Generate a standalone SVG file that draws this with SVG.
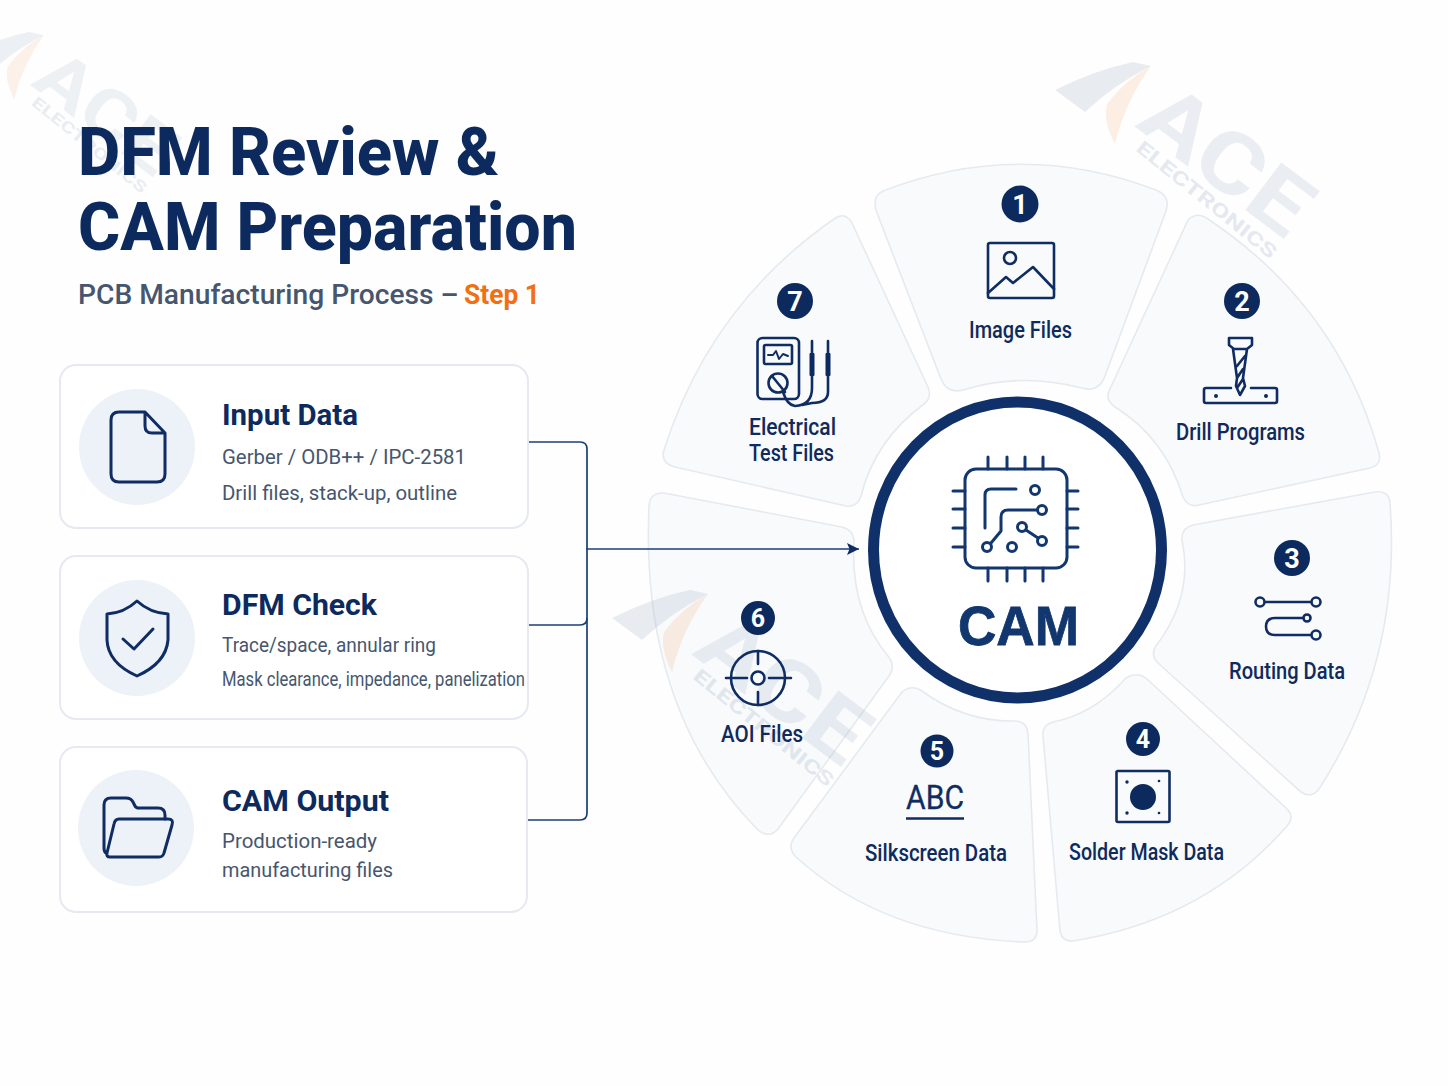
<svg xmlns="http://www.w3.org/2000/svg" width="1448" height="1086" viewBox="0 0 1448 1086">
<style>
text{font-family:Roboto,"Liberation Sans",sans-serif}
.h{font-weight:800;font-size:67px;fill:#0c2a5e}
.sub{font-weight:500;font-size:28.200px;fill:#46566e}
.step{font-weight:700;font-size:28px;fill:#f26f12}
.ct{font-weight:700;font-size:30px;fill:#0c2a5e}
.cd{font-size:21px;fill:#46566e}
.lb{font-size:23px;font-weight:500;fill:#0f2a5c}
.card{fill:#fff;stroke:#e6eaf0;stroke-width:2}
.disc{fill:#edf1f8}
.seg{fill:#f8fafc;stroke:#e6eaef;stroke-width:1.6}
.ic{fill:none;stroke:#0f2d63;stroke-width:3;stroke-linecap:round;stroke-linejoin:round}
.ict{fill:none;stroke:#0f2d63;stroke-width:2.6;stroke-linecap:round;stroke-linejoin:round}
.bd{fill:#0c2a5e}
.bt{fill:#fff;font-weight:700;font-size:27px;text-anchor:middle}
.con{fill:none;stroke:#1a3f78;stroke-width:1.7}
.wm{font-weight:700;fill:#8fa3bd}
</style>
<defs>
<marker id="ah" markerUnits="userSpaceOnUse" markerWidth="13" markerHeight="12" refX="12" refY="6" orient="auto"><path d="M0 0L12 6L0 12L2.5 6Z" fill="#0f2d63"/></marker>
<g id="wmk">
<path d="M0 28Q40 8 78 0L96 4Q60 22 30 50Z" fill="#8fa3bd" opacity=".2"/>
<path d="M96 4Q70 40 60 82Q48 60 52 42Q70 18 96 4Z" fill="#f29a5a" opacity=".16"/>
<g transform="translate(79 64) rotate(37)" opacity=".17"><text class="wm" x="0" y="0" font-size="84" textLength="190" lengthAdjust="spacingAndGlyphs">ACE</text></g>
<g transform="translate(80 88) rotate(39)" opacity=".22"><text class="wm" x="0" y="0" font-size="19" textLength="174" lengthAdjust="spacingAndGlyphs">ELECTRONICS</text></g>
</g>
</defs>
<rect width="1448" height="1086" fill="#fefefe"/>

<g id="segments">
<path id="seg1" class="seg" d="M883 191Q1020 138 1156 190Q1171 196 1166 211L1105 376Q1099 393 1082 388Q1020 372 963 390Q947 394 941 379L877 213Q871 197 883 191Z"/>
<path id="seg2" class="seg" d="M1188 220Q1197 211 1208 219Q1338 306 1379 453Q1382 465 1370 468L1199 505Q1188 508 1183 497Q1165 438 1115 407Q1104 399 1110 389L1188 220Z"/>
<path id="seg3" class="seg" d="M1193 525L1375 492Q1389 490 1390 503Q1402 660 1319 789Q1311 799 1301 792L1158 663Q1150 655 1156 646Q1194 596 1182 540Q1181 528 1193 525Z"/>
<path id="seg4" class="seg" d="M1126 678Q1137 671 1147 679L1287 809Q1295 817 1287 826Q1205 920 1073 941Q1062 942 1060 931L1043 736Q1042 725 1053 722Q1094 714 1126 678Z"/>
<path id="seg5" class="seg" d="M902 692Q912 684 922 691Q964 722 1016 721Q1027 722 1028 733L1037 930Q1037 942 1025 942Q884 937 796 857Q787 848 794 838L902 692Z"/>
<path id="seg6" class="seg" d="M664 493L842 527Q854 530 854 542Q850 610 888 656Q896 666 889 676L778 829Q769 839 758 830Q640 710 649 506Q650 492 664 493Z"/>
<path id="seg7" class="seg" d="M834 219Q845 211 852 223L928 387Q932 398 924 404Q875 440 861 496Q857 508 846 506L675 467Q660 463 664 450Q710 305 834 219Z"/>
</g>

<g id="watermarks">
<use href="#wmk" transform="translate(1055 62)"/>
<use href="#wmk" transform="translate(612 590)"/>
<use href="#wmk" transform="translate(-35 32) scale(.82)" opacity=".8"/>
</g>

<g id="title">
<text class="h" x="78" y="175" textLength="421" lengthAdjust="spacingAndGlyphs">DFM Review &amp;</text>
<text class="h" x="78" y="250" textLength="499" lengthAdjust="spacingAndGlyphs">CAM Preparation</text>
<text class="sub" x="78" y="304">PCB Manufacturing Process –</text>
<text class="step" x="464" y="304" textLength="76" lengthAdjust="spacingAndGlyphs">Step 1</text>
</g>

<g id="connectors">
<path class="con" d="M528 442H580Q587 442 587 449V813Q587 820 580 820H528"/>
<path class="con" d="M528 625H580Q587 625 587 618"/>
<path class="con" d="M586 549H859" marker-end="url(#ah)"/>
</g>

<g id="card-input">
<rect class="card" x="60" y="365" width="468" height="163" rx="16"/>
<circle class="disc" cx="137" cy="447" r="58"/>
<path class="ic" d="M145 412H119Q111 412 111 420V474Q111 482 119 482H157Q165 482 165 474V433L145 412ZM145 412V426Q145 433 152 433H165"/>
<text class="ct" x="222" y="425" textLength="136" lengthAdjust="spacingAndGlyphs">Input Data</text>
<text class="cd" x="222" y="464" textLength="244" lengthAdjust="spacingAndGlyphs">Gerber / ODB++ / IPC-2581</text>
<text class="cd" x="222" y="500" textLength="235" lengthAdjust="spacingAndGlyphs">Drill files, stack-up, outline</text>
</g>
<g id="card-dfm">
<rect class="card" x="60" y="556" width="468" height="163" rx="16"/>
<circle class="disc" cx="137" cy="638" r="58"/>
<path class="ic" d="M137 601Q124 613 107 614V640Q108 663 137 676Q166 663 168 640V614Q150 613 137 601Z"/>
<path class="ic" d="M123 639L134 649L153 629"/>
<text class="ct" x="222" y="615" textLength="155" lengthAdjust="spacingAndGlyphs">DFM Check</text>
<text class="cd" x="222" y="652" textLength="214" lengthAdjust="spacingAndGlyphs">Trace/space, annular ring</text>
<text class="cd" x="222" y="686" textLength="303" lengthAdjust="spacingAndGlyphs">Mask clearance, impedance, panelization</text>
</g>
<g id="card-output">
<rect class="card" x="60" y="747" width="467" height="165" rx="16"/>
<circle class="disc" cx="136" cy="828" r="58"/>
<path class="ic" d="M106 853Q104 852 104 848V805Q104 798 111 798H126Q131 798 133 802L135 806Q136 808 139 808H158Q165 808 165 815V819"/>
<path class="ic" d="M119 819H168Q174 819 172 825L164 853Q163 857 159 857H110Q106 857 107 853L114 824Q115 819 119 819Z"/>
<text class="ct" x="222" y="811" textLength="167" lengthAdjust="spacingAndGlyphs">CAM Output</text>
<text class="cd" x="222" y="848" textLength="155" lengthAdjust="spacingAndGlyphs">Production-ready</text>
<text class="cd" x="222" y="877" textLength="171" lengthAdjust="spacingAndGlyphs">manufacturing files</text>
</g>

<g id="hub">
<ellipse cx="1017.5" cy="550" rx="144" ry="148" fill="#fff" stroke="#0f3068" stroke-width="11"/>
<g class="ic" style="stroke:#12376f">
<rect x="965" y="469" width="102" height="99" rx="11"/>
<path d="M988 457V469M1007 457V469M1025 457V469M1043 457V469M988 568V581M1007 568V581M1025 568V581M1043 568V581M953 491H965M953 509H965M953 528H965M953 547H965M1067 491H1078M1067 509H1078M1067 528H1078M1067 547H1078"/>
<path d="M1016 489H991Q985 489 985 495V528M1037 510H1008Q1001 510 1001 517V531L991 543M1026 530L1038 538"/>
<circle cx="1035" cy="490" r="4.5"/><circle cx="1042" cy="510" r="4.5"/><circle cx="1022" cy="527" r="4.5"/><circle cx="1042" cy="541" r="4.5"/><circle cx="987" cy="547" r="4.5"/><circle cx="1012" cy="547" r="4.5"/>
</g>
<text x="958" y="645" textLength="121" lengthAdjust="spacingAndGlyphs" style="font-family:'Liberation Sans',Arial,sans-serif;font-weight:700;font-size:56px;fill:#12376f;stroke:#12376f;stroke-width:.8">CAM</text>
</g>

<g id="node-1">
<circle class="bd" cx="1020" cy="204" r="18.5"/><text class="bt" x="1020" y="214">1</text>
<rect class="ict" x="988" y="243" width="66" height="55" rx="2"/>
<circle class="ict" cx="1010" cy="258" r="6"/>
<path class="ict" d="M988 293L1006 277L1013 283L1033 267L1054 289"/>
<text class="lb" x="969" y="338" textLength="103" lengthAdjust="spacingAndGlyphs">Image Files</text>
</g>
<g id="node-2">
<circle class="bd" cx="1242" cy="301" r="18"/><text class="bt" x="1242" y="311">2</text>
<path class="ict" d="M1229 338H1252L1252 345L1247 349H1234L1229 345ZM1233 349L1237 378L1236 386L1240 395L1245 386L1243 378L1247 349M1237 366L1245 356M1237 378L1243 369M1237 388L1243 379"/>
<path class="ict" d="M1231 388H1206Q1204 388 1204 390V401Q1204 403 1206 403H1275Q1277 403 1277 401V390Q1277 388 1275 388H1251"/>
<circle class="bd" cx="1216" cy="396" r="2"/><circle class="bd" cx="1266" cy="396" r="2"/>
<text class="lb" x="1176" y="440" textLength="129" lengthAdjust="spacingAndGlyphs">Drill Programs</text>
</g>
<g id="node-3">
<circle class="bd" cx="1292" cy="558" r="18"/><text class="bt" x="1292" y="568">3</text>
<circle class="ict" cx="1260" cy="602" r="4.5"/><circle class="ict" cx="1316" cy="602" r="4.5"/>
<path class="ict" d="M1265 602H1311M1303 618H1275Q1266 618 1266 626.500Q1266 635 1275 635H1311"/>
<circle class="ict" cx="1307" cy="618" r="3.500"/><circle class="ict" cx="1316" cy="635" r="4.5"/>
<text class="lb" x="1229" y="679" textLength="116" lengthAdjust="spacingAndGlyphs">Routing Data</text>
</g>
<g id="node-4">
<circle class="bd" cx="1143" cy="739" r="17"/><text class="bt" x="1143" y="748" style="font-size:25px">4</text>
<rect class="ict" x="1116.500" y="771" width="53" height="51" rx="1.500"/>
<circle class="bd" cx="1143" cy="797" r="13"/>
<circle class="bd" cx="1127" cy="782" r="1.700"/><circle class="bd" cx="1159" cy="781" r="1.300"/><circle class="bd" cx="1127" cy="813" r="1.700"/><circle class="bd" cx="1159" cy="813" r="1.300"/>
<text class="lb" x="1069" y="860" textLength="155" lengthAdjust="spacingAndGlyphs">Solder Mask Data</text>
</g>
<g id="node-5">
<circle class="bd" cx="937" cy="751" r="16.500"/><text class="bt" x="937" y="760" style="font-size:25px">5</text>
<text x="906" y="809" textLength="58" lengthAdjust="spacingAndGlyphs" style="font-size:33px;fill:#0f2d63;stroke:#0f2d63;stroke-width:.3">ABC</text>
<path class="ict" d="M906 818.500H964" style="stroke-linecap:butt"/>
<text class="lb" x="865" y="861" textLength="142" lengthAdjust="spacingAndGlyphs">Silkscreen Data</text>
</g>
<g id="node-6">
<circle class="bd" cx="758" cy="618" r="17"/><text class="bt" x="758" y="627" style="font-size:25px">6</text>
<circle class="ict" cx="758" cy="678" r="27"/><circle class="ict" cx="758" cy="678" r="6.500"/>
<path class="ict" d="M726 678H747M769 678H791M758 651V664M758 692V705"/>
<text class="lb" x="721" y="742" textLength="82" lengthAdjust="spacingAndGlyphs">AOI Files</text>
</g>
<g id="node-7">
<circle class="bd" cx="795" cy="301" r="18"/><text class="bt" x="795" y="311">7</text>
<rect class="ict" x="757.500" y="338" width="41.500" height="61" rx="5"/>
<rect class="ict" x="764" y="345" width="28" height="19" rx="1.500"/>
<path class="ict" d="M768 355H773L776 351L779 359L783 354L788 356" style="stroke-width:2"/>
<circle class="ict" cx="778" cy="383" r="9.500"/>
<path class="ict" d="M772 376L785 392"/>
<path class="ict" d="M812 341V354M828 341V354M812 375V388Q812 405 795 406Q787 405 783 392M828 375V392Q828 403 812 403L802 405"/>
<rect class="bd" x="809.500" y="353" width="5" height="23" rx="1"/><rect class="bd" x="825.500" y="353" width="5" height="23" rx="1"/>
<text class="lb" x="749" y="435" textLength="87" lengthAdjust="spacingAndGlyphs">Electrical</text>
<text class="lb" x="749" y="461" textLength="85" lengthAdjust="spacingAndGlyphs">Test Files</text>
</g>
</svg>
